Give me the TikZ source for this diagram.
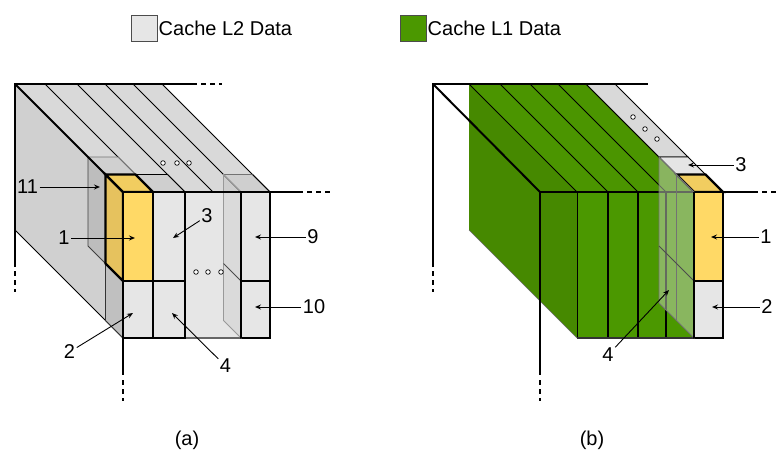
\documentclass[tikz,border=0pt]{standalone}
\usepackage{fontspec}
\setmainfont{Liberation Sans}
\usetikzlibrary{arrows.meta}
\definecolor{cellgrey}{HTML}{E6E6E6}
\definecolor{topgrey}{HTML}{D9D9D9}
\definecolor{sidegrey}{HTML}{D0D0D0}
\definecolor{bandgrey}{HTML}{CFCFCF}
\definecolor{darkside}{HTML}{BDBDBD}
\definecolor{yelfront}{HTML}{FFD966}
\definecolor{yeltop}{HTML}{F1CD60}
\definecolor{yelside}{HTML}{E6C25E}
\definecolor{grnfront}{HTML}{4B9800}
\definecolor{grnside}{HTML}{468900}
\definecolor{grntop}{HTML}{4B9500}
\definecolor{glassgrn}{RGB}{200,212,190}
\begin{document}
\begin{tikzpicture}[x=1pt,y=-1pt,
  axis/.style={line width=2pt},
  axisdash/.style={line width=1.6pt,dash pattern=on 5pt off 4pt},
  stripe/.style={line width=0.8pt},
  cellline/.style={line width=1.5pt},
  hilite/.style={line width=2.3pt},
  faint/.style={line width=0.8pt,draw=black!55},
  lbl/.style={font=\fontsize{20}{23}\selectfont,inner sep=1.5pt},
  pointer/.style={line width=0.9pt,-{Stealth[open,length=6pt,width=5pt,inset=2pt]}},
  dot/.style={circle,draw,line width=0.7pt,fill=white,inner sep=0pt,minimum size=4.6pt}
]
\useasboundingbox (0,0) rectangle (776,464);

% ---------------- legend ----------------
\draw[fill=cellgrey,draw=black!70,line width=0.8pt] (131,15) rectangle (157,41);
\node[lbl,anchor=west,inner sep=1pt] (legL2) at (157.5,28) {Cache L2 Data};
\draw[fill=grnfront,draw=black!70,line width=0.8pt] (400,15) rectangle (426,41);
\node[lbl,anchor=west,inner sep=1pt] (legL1) at (426.5,28) {Cache L1 Data};

% ================= (a) =================
% side face of the block
\fill[sidegrey] (15,84) -- (123,192) -- (123,338) -- (15,230) -- cycle;
\draw[stripe] (15,230) -- (123,338);
% top face of the block with slab stripes
\fill[topgrey] (15,84) -- (163,84) -- (270,192) -- (123,192) -- cycle;
\foreach \x in {153,185,213,241,270}
  \draw[stripe] (\x-108,84) -- (\x,192);
% top of the front slab, columns 2 and 5
\filldraw[fill=bandgrey,stripe] (153,192) -- (135.5,174.5) -- (167.5,174.5) -- (185,192);
\filldraw[fill=bandgrey,faint] (241,192) -- (223.5,174.5) -- (252.5,174.5) -- (270,192);
\draw[stripe] (252.5,174.5) -- (270,192);
% cell 11, behind cell 1
\filldraw[fill=sidegrey,faint] (105.5,174.5) -- (88,157) -- (118,157) -- (135.5,174.5);
\filldraw[fill=darkside,draw=black!75,line width=0.8pt] (88,157) -- (105.5,174.5) -- (105.5,263.5) -- (88,246) -- cycle;
% left face of cell 2
\filldraw[fill=darkside!95!white,draw=black!80,line width=0.8pt] (105.5,263.5) -- (123,281) -- (123,338) -- (105.5,320.5) -- cycle;
% cell 1 (highlighted)
\filldraw[fill=yelside,hilite] (105.5,174.5) -- (123,192) -- (123,281) -- (105.5,263.5) -- cycle;
\filldraw[fill=yeltop,hilite] (105.5,174.5) -- (135.5,174.5) -- (153,192) -- (123,192) -- cycle;
% front cells
\fill[cellgrey] (185,192) rectangle (241,338);
\draw[line width=1.2pt,draw=black!60] (185,338) -- (241,338);
\filldraw[fill=cellgrey,cellline] (123,281) rectangle (153,338);
\filldraw[fill=cellgrey,cellline] (153,192) rectangle (185,281);
\filldraw[fill=cellgrey,cellline] (153,281) rectangle (185,338);
\filldraw[fill=cellgrey,cellline] (241,192) rectangle (270,281);
\filldraw[fill=cellgrey,cellline] (241,281) rectangle (270,338);
\filldraw[fill=yelfront,hilite] (123,192) rectangle (153,281);
% see-through left face of column 5
\filldraw[fill=black,fill opacity=0.05,draw=black!40,line width=0.9pt]
  (223.5,174.5) -- (241,192) -- (241,338) -- (223.5,320.5) -- cycle;
\draw[draw=black!70,line width=0.8pt] (223.5,263.5) -- (241,281);
\draw[cellline] (241,192) -- (241,338);
% elision dots
\foreach \x in {196,208,221} \node[dot] at (\x,272) {};
\foreach \x in {163,177,189} \node[dot] at (\x,163) {};
% axes
\draw[axis] (15,267) -- (15,84) -- (197,84);
\draw[axisdash] (201,84) -- (222,84);
\draw[axis] (15,84) -- (105.5,174.5);
\draw[axis] (123,192) -- (303,192);
\draw[axisdash] (307,192) -- (330,192);
\draw[axis] (123,192) -- (123,375);
\draw[axisdash] (123,380) -- (123,401);
\draw[axisdash] (15,271) -- (15,292);
% labels
\node[lbl] (a11) at (27.5,187) {11};
\coordinate (a11t) at (100,187);
\draw[pointer] (a11) -- (a11t);
\node[lbl] (a1) at (64,238) {1};
\coordinate (a1t) at (135,238);
\draw[pointer] (a1) -- (a1t);
\node[lbl] (a3) at (207,216) {3};
\coordinate (a3t) at (173,238);
\draw[pointer] (a3) -- (a3t);
\node[lbl] (a9) at (313,237) {9};
\coordinate (a9t) at (255,237);
\draw[pointer] (a9) -- (a9t);
\node[lbl] (a10) at (314,307) {10};
\coordinate (a10t) at (255,307);
\draw[pointer] (a10) -- (a10t);
\node[lbl] (a2) at (69.5,352) {2};
\coordinate (a2t) at (133,313);
\draw[pointer] (a2) -- (a2t);
\node[lbl] (a4) at (225.5,366) {4};
\coordinate (a4t) at (172,313);
\draw[pointer] (a4) -- (a4t);
\node[lbl] (capa) at (187,440) {(a)};

% ================= (b) =================
% side and top faces of the L1 block
\fill[grnside] (469,84) -- (577,192) -- (577,338) -- (469,230) -- cycle;
\draw[line width=0.6pt,draw=black!60] (469,230) -- (577,338);
\fill[grntop] (469,84) -- (586,84) -- (694,192) -- (577,192) -- cycle;
\foreach \x in {577,608,638,666,694}
  \draw[stripe] (\x-108,84) -- (\x,192);
% column 5: remaining L2 slabs, cell 3
\filldraw[fill=topgrey,stripe] (586,84) -- (615,84) -- (688,157) -- (659,157) -- cycle;
\foreach \p in {(633,117),(645,129),(657,139)} \node[dot] at \p {};
\filldraw[fill=cellgrey!90!topgrey,stripe] (659,157) -- (688,157) -- (705.5,174.5) -- (676.5,174.5) -- cycle;
% green front cells
\fill[grnfront] (577,192) rectangle (694,338);
\draw[line width=0.9pt] (577,192) -- (577,338);
\draw[cellline] (608,192) -- (608,338);
\draw[cellline] (638,192) -- (638,338);
\draw[cellline] (666,192) -- (666,338);
\draw[line width=1.3pt,draw=black!80] (577,338) -- (694,338);
% cells 1 and 2
\filldraw[fill=yeltop,hilite] (676.5,174.5) -- (705.5,174.5) -- (723,192) -- (694,192) -- cycle;
\filldraw[fill=cellgrey,cellline] (694,281) rectangle (723,338);
\filldraw[fill=yelfront,hilite] (694,192) rectangle (723,281);
% axes
\draw[axis] (433,267) -- (433,84) -- (648,84);
\draw[axis] (433,84) -- (540,192);
\draw[axis] (540,192) -- (758,192);
\draw[axisdash] (762,192) -- (776,192);
\draw[axis] (540,192) -- (540,375);
\draw[axisdash] (540,380) -- (540,401);
\draw[axisdash] (433,271) -- (433,292);
% see-through left face of column 5
\filldraw[fill=glassgrn,fill opacity=0.5,draw=black!55,line width=0.9pt]
  (659,157) -- (694,192) -- (694,338) -- (659,303) -- cycle;
\draw[draw=black!55,line width=0.9pt] (676.5,174.5) -- (676.5,320.5);
\draw[draw=black!70,line width=0.9pt] (659,246) -- (694,281);
\draw[cellline] (694,192) -- (694,338);
% labels
\node[lbl] (b3) at (741,165) {3};
\coordinate (b3t) at (688,165);
\draw[pointer] (b3) -- (b3t);
\node[lbl] (b1) at (766,237) {1};
\coordinate (b1t) at (711,237);
\draw[pointer] (b1) -- (b1t);
\node[lbl] (b2) at (767,307) {2};
\coordinate (b2t) at (712,307);
\draw[pointer] (b2) -- (b2t);
\node[lbl] (b4) at (608,355) {4};
\coordinate (b4t) at (669,290);
\draw[pointer] (b4) -- (b4t);
\node[lbl] (capb) at (592,440) {(b)};
\end{tikzpicture}
\end{document}
